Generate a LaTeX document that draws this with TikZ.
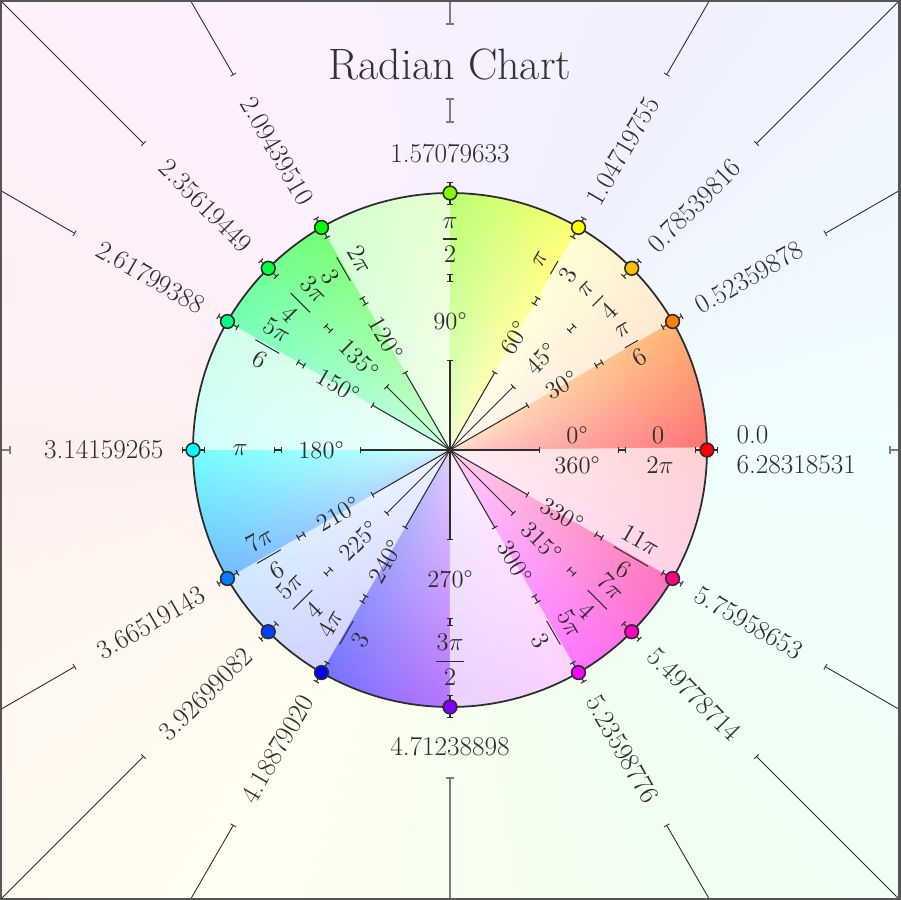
\documentclass[tikz,border=0pt]{standalone}
\usepackage{amsmath}
\usetikzlibrary{arrows.meta, calc, fadings}
\selectcolormodel{rgb}
\definecolor{inkgray}{RGB}{45, 45, 45}
\definecolor{axisgray}{RGB}{125, 125, 125}
\definecolor{framegray}{RGB}{85, 85, 85}
\tikzfading[name=hubglow, inner color=transparent!35, outer color=transparent!100]
\tikzset{
  degtext/.style={text=inkgray, font=\fontsize{14}{16}\selectfont, inner sep=1pt},
  fractext/.style={text=inkgray, font=\fontsize{14}{16}\selectfont, inner sep=0pt},
  radtext/.style={text=inkgray, font=\fontsize{15.5}{17}\selectfont, inner sep=3pt},
  hubline/.style={-{Bar[width=3.5pt]}, draw=inkgray, line width=0.6pt},
  ibar/.style={{Bar[width=3.5pt]}-{Bar[width=3.5pt]}, draw=inkgray, line width=0.6pt},
  leader/.style={{Bar[width=3.5pt]}-, draw=inkgray, line width=0.5pt},
  axisleader/.style={{Bar[width=4.5pt]}-, draw=axisgray, line width=1.1pt},
  angdot/.style={circle, fill=#1, draw=inkgray, line width=0.9pt, inner sep=0pt, minimum size=7.8pt},
}

\begin{document}
\begin{tikzpicture}[x=0.02cm, y=0.02cm]
  \useasboundingbox (-450,-450) rectangle (450,450);
  \begin{scope}
    \clip (-450,-450) rectangle (450,450);
    % pale wash behind the wheel
    \foreach \a in {0,3,...,357}{
      \pgfmathtruncatemacro\h{mod(\a+180,360)}
      \definecolor{washc}{Hsb}{\h,1,1}
      \fill[washc!6!white] (0,0) -- (\a:700) -- (\a+3.6:700) -- cycle;
    }
    \foreach \a in {30,45,60,120,135,150,210,225,240,300,315,330}
      \draw[leader] (\a:433) -- (\a:700);
    \draw[axisleader] (0:439) -- (0:470);
    \draw[axisleader] (180:439) -- (180:470);
    \draw[axisleader] (270:327) -- (270:470);
    \draw[axisleader, {Bar[width=4.5pt]}-{Bar[width=4.5pt]}] (90:327) -- (90:352);
    \draw[axisleader] (90:425) -- (90:470);
  \end{scope}

  % the wheel
  \foreach \a in {0,...,359}{
    \pgfmathtruncatemacro\band{mod(floor(\a/30),2)}
    \definecolor{huec}{Hsb}{\a,1,1}
    \ifnum\band=0 \colorlet{wedgec}{huec!55!white}\else\colorlet{wedgec}{huec!18!white}\fi
    \fill[wedgec] (0,0) -- (\a:257) -- (\a+1.6:257) -- cycle;
  }
  \fill[white, path fading=hubglow] (0,0) circle (257);
  \draw[inkgray, line width=1pt] (0,0) circle (257);

  \foreach \a in {0,30,45,60,90,120,135,150,180,210,225,240,270,300,315,330}{
    \definecolor{huec}{Hsb}{\a,1,1}
    \draw[hubline] (0,0) -- (\a:90);
    \draw[ibar] (\a:168) -- (\a:176);
    \draw[ibar] (\a:245) -- (\a:268);
    \node[angdot=huec] (dot\a) at (\a:257) {};
  }

  % degrees and fractions
  \foreach \a/\fr in {30/{\dfrac{\pi}{6}}, 45/{\dfrac{\pi}{4}}, 60/{\dfrac{\pi}{3}},
      90/{\dfrac{\pi}{2}}, 120/{\dfrac{2\pi}{3}}, 135/{\dfrac{3\pi}{4}},
      150/{\dfrac{5\pi}{6}}, 180/{\pi}, 210/{\dfrac{7\pi}{6}}, 225/{\dfrac{5\pi}{4}},
      240/{\dfrac{4\pi}{3}}, 270/{\dfrac{3\pi}{2}}, 300/{\dfrac{5\pi}{3}},
      315/{\dfrac{7\pi}{4}}, 330/{\dfrac{11\pi}{6}}}{
    \pgfmathsetmacro\rot{(\a>90 && \a<270) ? \a-180 : ((\a==90 || \a==270) ? 0 : \a)}
    \node[degtext, rotate=\rot] (deg\a) at (\a:129) {\a°};
    \node[fractext, rotate=\rot] (frac\a) at (\a:210) {$\fr$};
  }
  \node[degtext] (deg0) at (127,15) {0°};
  \node[degtext] (deg360) at (127,-15) {360°};
  \node[fractext] (frac0) at (208,15) {$0$};
  \node[fractext] (frac360) at (210,-15) {$2\pi$};

  % radian values
  \foreach \a/\val in {30/0.52359878, 45/0.78539816, 60/1.04719755,
      120/2.09439510, 135/2.35619449, 150/2.61799388,
      210/3.66519143, 225/3.92699082, 240/4.18879020,
      300/5.23598776, 315/5.49778714, 330/5.75958653}{
    \pgfmathsetmacro\rot{(\a>90 && \a<270) ? \a-180 : \a}
    \pgfmathtruncatemacro\lft{(\a>90 && \a<270) ? 1 : 0}
    \ifnum\lft=1 \def\anc{east}\else\def\anc{west}\fi
    \node[radtext, rotate=\rot, anchor=\anc] (val\a) at (\a:280) {\val};
  }
  \node[radtext, anchor=west, align=left] (val0) at (0:281) {0.0\\6.28318531};
  \node[radtext, anchor=south] (val90) at (90:281) {1.57079633};
  \node[radtext, anchor=east] (val180) at (180:281) {3.14159265};
  \node[radtext, anchor=north] (val270) at (270:281) {4.71238898};

  \node[text=black!80, font=\fontsize{25}{28}\selectfont] (title) at (0,385) {Radian Chart};

  \draw[framegray, line width=2.2pt] (-450,-450) rectangle (450,450);
\end{tikzpicture}
\end{document}
